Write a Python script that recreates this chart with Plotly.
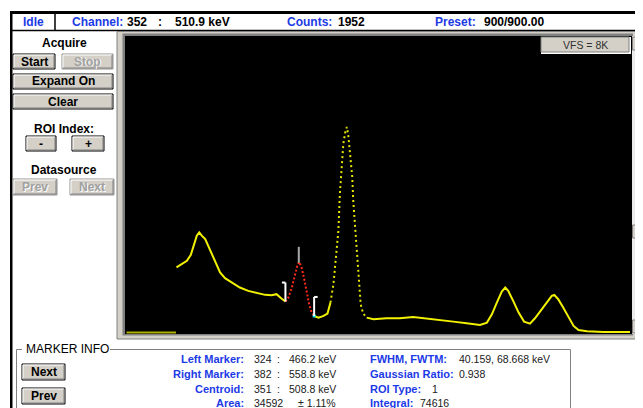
import numpy as np
import plotly.graph_objects as go

W, H = 643, 408          # reference picture size (pixel coordinates below)
OFF = 8                  # page body margin of the html page
FW, FH = W - OFF, H - OFF

# ------------------------------------------------------------------ data
channels = [104, 114, 125, 133, 139, 145, 150, 155, 162, 168,
            175, 185, 192, 202, 219, 232, 249, 266, 283, 296,
            306, 316, 324,
            330, 337, 343, 348, 352, 357, 362, 367, 372, 377, 382,
            391, 401, 409, 415, 421, 426, 431, 434, 438, 441,
            445, 448, 451, 455, 459, 461, 465, 468, 472, 476,
            481, 488,
            502, 528, 555, 582, 609, 636, 663, 690, 717, 731,
            741, 751, 761, 768, 774, 784, 795, 806, 818, 828,
            840, 852, 862, 867, 875, 885, 896, 906, 916, 933,
            966, 1000, 1020]
counts = [1800, 1890, 1980, 2150, 2446, 2677, 2769, 2677, 2584, 2399,
          2168, 1845, 1660, 1503, 1355, 1244, 1152, 1087, 1041, 1032,
          1060, 939, 856,
          967, 1244, 1568, 1845, 1952, 1780, 1475, 1106, 782, 551, 459,
          413, 459, 524, 829, 1337, 2076, 2815, 3832, 4663, 5218,
          5541, 5680, 5449, 4940, 4294, 3647, 2908, 2076, 1337, 782,
          524, 413,
          367, 394, 394, 431, 394, 339, 302, 256, 209, 274,
          505, 829, 1133, 1244, 1152, 875, 551, 302, 246, 394,
          616, 856, 1013, 1041, 921, 690, 413, 182, 71, 34,
          15, 25, 15]
lld_channels = [3, 103]          # channels below discriminator (zero counts)
lld_counts = [0, 0]

n_channels = 1024
vfs = 8192

left_marker = 324
right_marker = 382
centroid = 351
cursor_channel = 352
cursor_energy = "510.9 keV"
cursor_counts = 1952
preset = "900/900.00"

info_left_labels = ["Left Marker:", "Right Marker:", "Centroid:", "Area:"]
info_left_values = [("324", ":", "466.2 keV"), ("382", ":", "558.8 keV"),
                    ("351", ":", "508.8 keV"), ("34592", "", "± 1.11%")]
info_right_labels = ["FWHM, FWTM:", "Gaussian Ratio:", "ROI Type:", "Integral:"]
info_right_values = ["40.159, 68.668 keV", "0.938", "1", "74616"]

# ------------------------------------------------------------------ helpers
FONT = "Liberation Sans, Arial, sans-serif"
BLUE = "#1c3ae6"
FACE = "#d4d0c8"


def X(x):
    return (x - OFF) / FW


def Y(y):
    return 1 - (y - OFF) / FH


shapes = []
annotations = []


def rect(x0, y0, x1, y1, fill=None, line=None, lw=1, layer="above"):
    shapes.append(dict(type="rect", xref="paper", yref="paper",
                       x0=X(x0), x1=X(x1), y0=Y(y1), y1=Y(y0),
                       fillcolor=fill if fill else "rgba(0,0,0,0)",
                       line=dict(color=line if line else "rgba(0,0,0,0)",
                                 width=lw if line else 0),
                       layer=layer))


def seg(x0, y0, x1, y1, color, lw=1, layer="above"):
    shapes.append(dict(type="line", xref="paper", yref="paper",
                       x0=X(x0), x1=X(x1), y0=Y(y0), y1=Y(y1),
                       line=dict(color=color, width=lw), layer=layer))


def tri(points, color):
    p = "M " + " L ".join(f"{X(a)},{Y(b)}" for a, b in points) + " Z"
    shapes.append(dict(type="path", xref="paper", yref="paper", path=p,
                       fillcolor=color, line=dict(color=color, width=0),
                       layer="above"))


def text(s, x, y, anchor="left", size=12, color="#000000", bold=False):
    annotations.append(dict(text=f"<b>{s}</b>" if bold else s,
                            xref="paper", yref="paper", x=X(x), y=Y(y),
                            xanchor=anchor, yanchor="middle", showarrow=False,
                            font=dict(family=FONT, size=size, color=color)))


def button(x0, y0, x1, y1, label, enabled=True):
    rect(x0, y0, x1, y1, fill=FACE, line="#000000" if enabled else "#909090")
    seg(x0 + 1, y0 + 1, x1 - 1, y0 + 1, "#ffffff")
    seg(x0 + 1, y0 + 1, x0 + 1, y1 - 1, "#ffffff")
    seg(x0 + 1, y1 - 1, x1 - 1, y1 - 1, "#808080")
    seg(x1 - 1, y0 + 1, x1 - 1, y1 - 1, "#808080")
    cx, cy = (x0 + x1) / 2, (y0 + y1) / 2
    if enabled:
        text(label, cx, cy, "center", 12, "#000000", True)
    else:
        text(label, cx + 1, cy + 1, "center", 12, "#ffffff", True)
        text(label, cx, cy, "center", 12, "#a0a0a0", True)


# ------------------------------------------------------------------ window chrome
rect(10, 11, 643, 14, fill="#000000", layer="below")           # top bar line
rect(10, 11, 12.5, 408, fill="#000000", layer="below")          # left border
seg(11, 30.5, 643, 30.5, "#000000", 1.5, "below")              # header bottom
seg(55, 14, 55, 31, "#000000", 1.5, "below")                   # Idle separator

text("Idle", 33, 22, "center", 12, BLUE, True)
text("Channel:", 70, 22, "left", 12, BLUE, True)
text(str(cursor_channel), 125, 22, "left", 12, "#000000", True)
text(":", 160, 22, "center", 12, "#000000", True)
text(cursor_energy, 173, 22, "left", 12, "#000000", True)
text("Counts:", 285, 22, "left", 12, BLUE, True)
text(str(cursor_counts), 336, 22, "left", 12, "#000000", True)
text("Preset:", 433, 22, "left", 12, BLUE, True)
text(preset, 482, 22, "left", 12, "#000000", True)

# plot frame
rect(117, 31.5, 643, 339, fill=FACE, line="#808080", layer="below")
rect(122.5, 33.5, 633, 335.5, fill="#808080", layer="below")
rect(125, 36, 632, 334, fill="#000000", layer="below")

# scrollbar
rect(632, 36, 643, 334, fill="#ebebeb")
rect(632.5, 37, 643, 50, fill=FACE, line="#808080")
tri([(635.5, 45.5), (640.5, 45.5), (638, 42.5)], "#000000")
rect(632.5, 225, 643, 238, fill=FACE, line="#808080")
rect(632.5, 320, 643, 333, fill=FACE, line="#808080")
tri([(635.5, 325), (640.5, 325), (638, 328)], "#000000")

# VFS box
rect(541, 37, 631, 54, fill="#ffffff")
rect(541, 37, 629, 52, fill=FACE, line="#808080")
text(f"VFS = {vfs // 1024}K", 585, 45, "center", 10.5, "#303030")

# left panel
text("Acquire", 64, 43, "center", 12, "#000000", True)
button(13, 54, 55, 69, "Start")
button(62, 54, 113, 69, "Stop", enabled=False)
button(13, 74, 113, 89, "Expand On")
button(13, 94, 113, 109, "Clear")
text("ROI Index:", 64, 129, "center", 12, "#000000", True)
button(26, 136, 56, 151, "-")
button(72, 136, 104, 151, "+")
text("Datasource", 64, 170, "center", 12, "#000000", True)
button(13, 179, 57, 195, "Prev", enabled=False)
button(70, 179, 114, 195, "Next", enabled=False)

# marker info group
seg(16.5, 349.5, 22, 349.5, "#808080")
seg(110, 349.5, 570.5, 349.5, "#808080")
seg(16.5, 349.5, 16.5, 408, "#808080")
seg(570.5, 349.5, 570.5, 408, "#808080")
text("MARKER INFO", 24, 349, "left", 12, "#000000")
button(22, 364, 65, 380, "Next")
button(22, 388, 65, 404, "Prev")

rows_y = [358.5, 373.5, 388.5, 402.5]
for lab, (a, b, c), yy in zip(info_left_labels, info_left_values, rows_y):
    text(lab, 246, yy, "right", 11, BLUE, True)
    text(a, 252, yy, "left", 10.5, "#202020")
    if b:
        text(b, 278, yy, "center", 10.5, "#202020")
        text(c, 287, yy, "left", 10.5, "#202020")
    else:
        text(c, 296, yy, "left", 10.5, "#202020")
value_x = [457, 457, 430, 418]
for lab, val, vx, yy in zip(info_right_labels, info_right_values, value_x, rows_y):
    text(lab, 368, yy, "left", 11, BLUE, True)
    text(val, vx, yy, "left", 10.5, "#202020")

# ------------------------------------------------------------------ spectrum traces
ch = np.array(channels, dtype=float)
ct = np.array(counts, dtype=float)
peak_dotted = (415, 488)

fig = go.Figure()
YEL = "#f2f200"


def add(mask, color, dash="solid", width=2):
    fig.add_trace(go.Scatter(x=ch[mask], y=ct[mask], mode="lines",
                             line=dict(color=color, width=width, dash=dash),
                             hoverinfo="skip", showlegend=False))


add(ch <= left_marker, YEL)
add((ch >= right_marker) & (ch <= peak_dotted[0]), YEL)
add((ch >= peak_dotted[0]) & (ch <= peak_dotted[1]), "#e6e600", "2px,3px")
add(ch >= peak_dotted[1], YEL)
add((ch >= left_marker) & (ch <= right_marker), "#ff2a1a", "2px,2px")
fig.add_trace(go.Scatter(x=lld_channels, y=lld_counts, mode="lines",
                         line=dict(color="#b0b000", width=2),
                         hoverinfo="skip", showlegend=False))

# ROI markers (data coordinates)
px_per_count = 298 / (vfs + 40)
bracket_h = 19 / px_per_count
tick_w = 3.5 * n_channels / 507
lb = float(np.interp(left_marker, ch, ct))
rb = float(np.interp(right_marker, ch, ct))
cb = float(np.interp(centroid, ch, ct))
for x0, y0, x1, y1, col in [
        (left_marker, lb, left_marker, lb + bracket_h, "#ffffff"),
        (left_marker - tick_w, lb + bracket_h, left_marker, lb + bracket_h, "#ffffff"),
        (right_marker, rb, right_marker, rb + bracket_h, "#ffffff"),
        (right_marker, rb + bracket_h, right_marker + tick_w, rb + bracket_h, "#ffffff"),
        (centroid, cb, centroid, cb + 16 / px_per_count, "#a8a8a8")]:
    shapes.append(dict(type="line", xref="x", yref="y", x0=x0, x1=x1, y0=y0, y1=y1,
                       line=dict(color=col, width=2), layer="above"))
fig.add_trace(go.Scatter(x=[right_marker], y=[rb], mode="markers",
                         marker=dict(color="#00e0ff", size=3, symbol="square"),
                         hoverinfo="skip", showlegend=False))

fig.update_layout(
    width=FW, height=FH,
    margin=dict(l=0, r=0, t=0, b=0),
    paper_bgcolor="#ffffff",
    plot_bgcolor="rgba(0,0,0,0)",
    xaxis=dict(domain=[X(125), X(632)], range=[0, n_channels], visible=False,
               showgrid=False, zeroline=False, fixedrange=True),
    yaxis=dict(domain=[Y(334), Y(36)], range=[-40, vfs], visible=False,
               showgrid=False, zeroline=False, fixedrange=True),
    shapes=shapes,
    annotations=annotations,
    showlegend=False,
)

fig.write_html("out.html", config={"displayModeBar": False})
